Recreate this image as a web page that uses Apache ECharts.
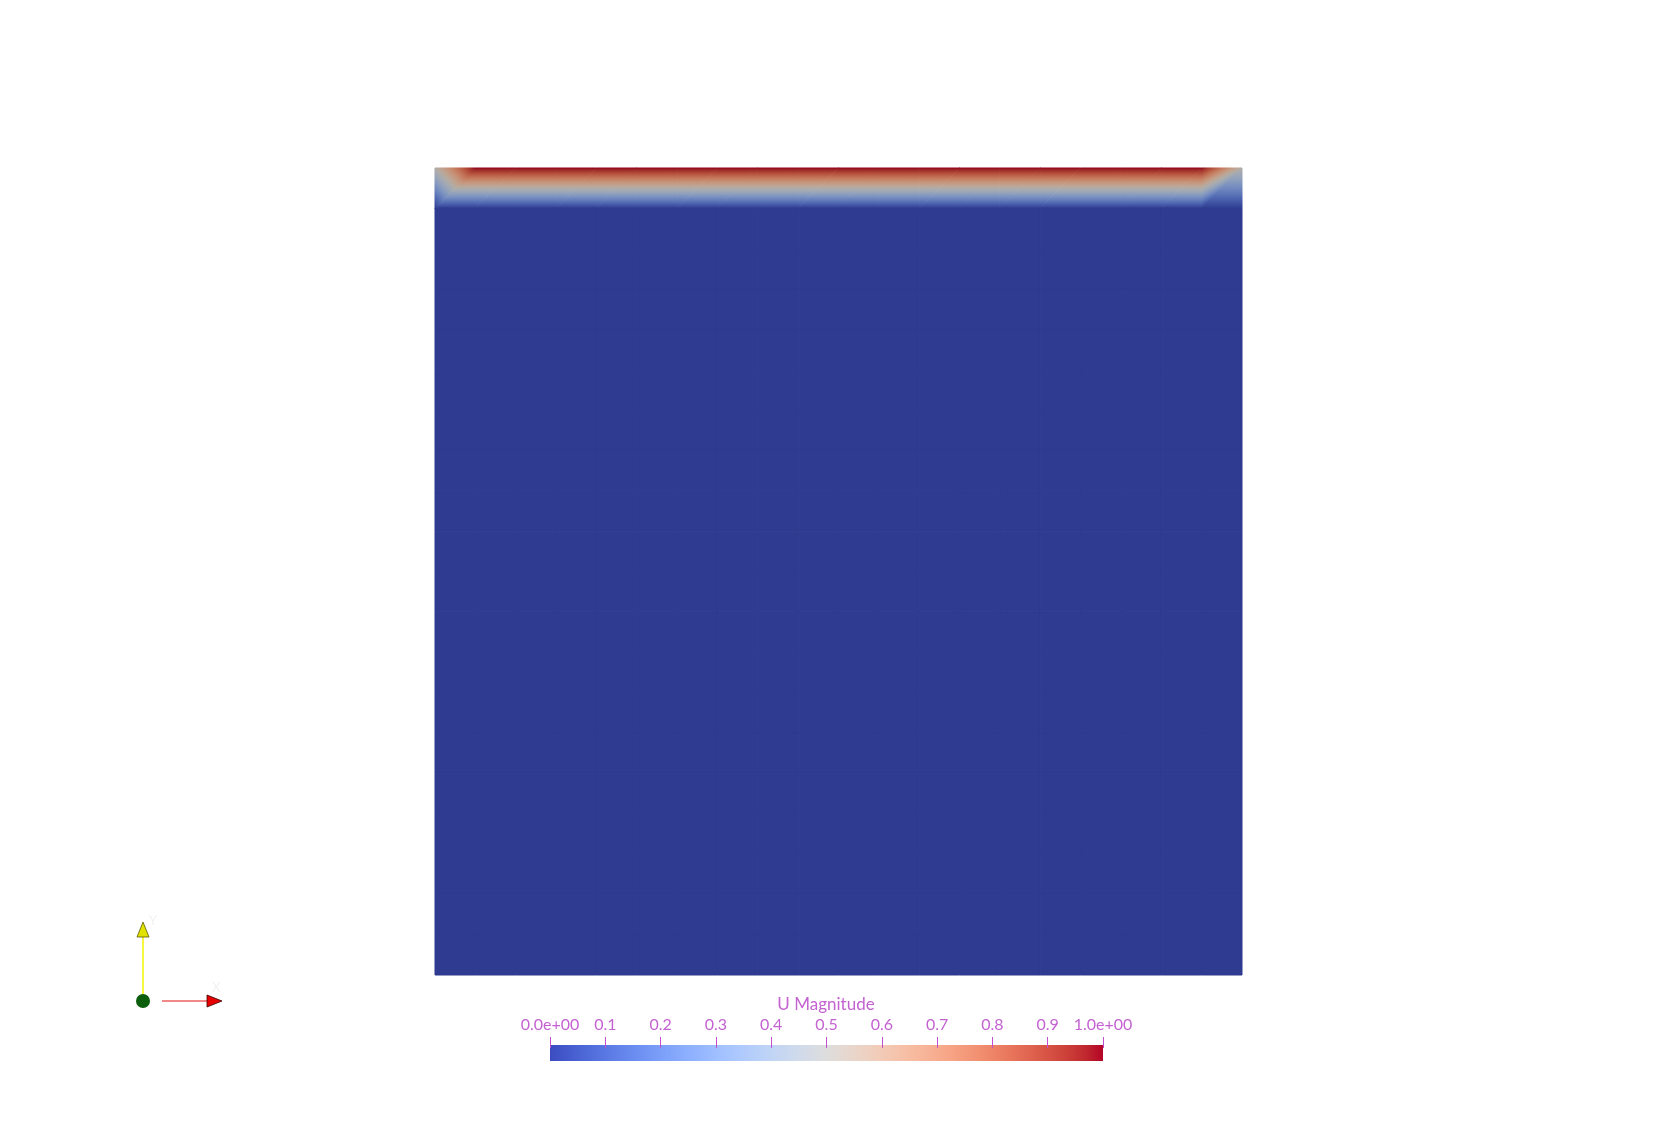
<!DOCTYPE html>
<html><head><meta charset="utf-8">
<script src="https://cdn.jsdelivr.net/npm/echarts@6/dist/echarts.min.js"></script>
<style>html,body{margin:0;padding:0;background:#fff}#c{width:1678px;height:1144px}</style>
</head><body><div id="c"></div>
<script>
// ---- data ----
const meshCells = 20;                       // 20 x 20 cell mesh, 21 x 21 nodes
// node values of U magnitude, top (lid) row first
const lidRow = [0.5,1,1,1,1,1,1,1,1,1,1,1,1,1,1,1,1,1,1,1,0.5];
const interiorRow = [0,0,0,0,0,0,0,0,0,0,0,0,0,0,0,0,0,0,0,0,0];
const colorbarRange = [0, 1];
const tickValues = [0,0.1,0.2,0.3,0.4,0.5,0.6,0.7,0.8,0.9,1];
const tickLabels = ['0.0e+00','0.1','0.2','0.3','0.4','0.5','0.6','0.7','0.8','0.9','1.0e+00'];
const colorbarTitle = 'U Magnitude';
// ParaView "Cool to Warm" colour map, 33 samples
const coolWarm = [
 [59,76,192],[68,90,204],[77,104,215],[87,117,225],[98,130,234],[108,142,241],[119,154,247],[130,165,251],
 [141,176,254],[152,185,255],[163,194,255],[174,201,253],[184,208,249],[194,213,244],[204,217,238],[213,219,230],
 [221,221,221],[229,216,209],[236,211,197],[241,204,185],[245,196,173],[247,187,160],[247,177,148],[247,166,135],
 [244,154,123],[241,141,111],[236,127,99],[229,112,88],[222,96,77],[213,80,66],[203,62,56],[192,40,47],[180,4,38]
];

const nodes = [lidRow];
for (let r = 1; r <= meshCells; r++) nodes.push(interiorRow);

const TXT = '#c462d2';
const TICK = '#c24fcc';
const FONT = 'Lato, "DejaVu Sans", sans-serif';

function cmap(v) {
  const lo = colorbarRange[0], hi = colorbarRange[1];
  let t = (v - lo) / (hi - lo);
  t = Math.max(0, Math.min(1, t));
  const p = t * (coolWarm.length - 1);
  const i = Math.min(coolWarm.length - 2, Math.floor(p));
  const f = p - i;
  const a = coolWarm[i], b = coolWarm[i + 1];
  return [a[0] + (b[0] - a[0]) * f, a[1] + (b[1] - a[1]) * f, a[2] + (b[2] - a[2]) * f];
}
function rgb(c) { return 'rgb(' + Math.round(c[0]) + ',' + Math.round(c[1]) + ',' + Math.round(c[2]) + ')'; }
// lit surface colour (scene lighting darkens the surface)
function lit(v) { const c = cmap(v); return rgb([c[0] * 0.8, c[1] * 0.78, c[2] * 0.75]); }

function triangle(P, V) {
  const d1x = P[1][0] - P[0][0], d1y = P[1][1] - P[0][1];
  const d2x = P[2][0] - P[0][0], d2y = P[2][1] - P[0][1];
  const dv1 = V[1] - V[0], dv2 = V[2] - V[0];
  const det = d1x * d2y - d1y * d2x;
  const a = (dv1 * d2y - dv2 * d1y) / det;
  const b = (d1x * dv2 - d2x * dv1) / det;
  const g2 = a * a + b * b;
  let fill;
  if (g2 < 1e-14) {
    fill = lit(V[0]);
  } else {
    const vmin = Math.min(V[0], V[1], V[2]), vmax = Math.max(V[0], V[1], V[2]);
    const s = [P[0][0] + (vmin - V[0]) / g2 * a, P[0][1] + (vmin - V[0]) / g2 * b];
    const e = [P[0][0] + (vmax - V[0]) / g2 * a, P[0][1] + (vmax - V[0]) / g2 * b];
    const stops = [];
    const N = 32;
    for (let k = 0; k <= N; k++) stops.push({ offset: k / N, color: lit(vmin + (vmax - vmin) * k / N) });
    fill = new echarts.graphic.LinearGradient(s[0], s[1], e[0], e[1], stops, true);
  }
  return { type: 'polygon', shape: { points: P }, style: { fill: fill, stroke: fill, lineWidth: 1, lineJoin: 'bevel' } };
}

const cells = [];
for (let j = 0; j < meshCells; j++) for (let i = 0; i < meshCells; i++) cells.push([i, j]);

function renderCell(params, api) {
  const i = api.value(0), j = api.value(1);
  const TL = api.coord([i, meshCells - j]), TR = api.coord([i + 1, meshCells - j]);
  const BL = api.coord([i, meshCells - j - 1]), BR = api.coord([i + 1, meshCells - j - 1]);
  const vTL = nodes[j][i], vTR = nodes[j][i + 1], vBL = nodes[j + 1][i], vBR = nodes[j + 1][i + 1];
  if (vTL === vTR && vTL === vBL && vTL === vBR) {
    const col = lit(vTL);
    return { type: 'rect', shape: { x: TL[0], y: TL[1], width: TR[0] - TL[0], height: BL[1] - TL[1] },
             style: { fill: col, stroke: col, lineWidth: 1 } };
  }
  return { type: 'group', children: [
    triangle([TL, TR, BL], [vTL, vTR, vBL]),
    triangle([TR, BR, BL], [vTR, vBR, vBL])
  ] };
}

function renderBar(params, api) {
  const p0 = api.coord([api.value(0), 1]);
  const p1 = api.coord([api.value(1), 0]);
  const stops = coolWarm.map((c, k) => ({ offset: k / (coolWarm.length - 1), color: rgb(c) }));
  return { type: 'rect', shape: { x: p0[0], y: p0[1], width: p1[0] - p0[0], height: p1[1] - p0[1] },
           style: { fill: new echarts.graphic.LinearGradient(0, 0, 1, 0, stops) } };
}

const chart = echarts.init(document.getElementById('c'), null, { renderer: 'canvas' });
chart.setOption({
  backgroundColor: '#ffffff',
  animation: false,
  grid: [
    { left: 435, top: 168, width: 807, height: 807 },
    { left: 550, top: 1045, width: 553, height: 16 }
  ],
  xAxis: [
    { gridIndex: 0, type: 'value', min: 0, max: meshCells, show: false },
    { gridIndex: 1, type: 'value', min: tickValues[0], max: tickValues[tickValues.length - 1], interval: 0.1,
      position: 'top', offset: -3, z: 10,
      axisLine: { show: false, onZero: false },
      axisTick: { show: true, inside: false, length: 11, lineStyle: { color: TICK, width: 1 } },
      splitLine: { show: false },
      axisLabel: { margin: 15, fontSize: 16, color: TXT, fontFamily: FONT,
        formatter: v => tickLabels[Math.round(v * 10)] } }
  ],
  yAxis: [
    { gridIndex: 0, type: 'value', min: 0, max: meshCells, show: false },
    { gridIndex: 1, type: 'value', min: 0, max: 1, show: false }
  ],
  series: [
    { type: 'custom', xAxisIndex: 0, yAxisIndex: 0, data: cells, renderItem: renderCell, silent: true },
    { type: 'custom', xAxisIndex: 1, yAxisIndex: 1, data: [colorbarRange], renderItem: renderBar, silent: true }
  ],
  graphic: [
    { type: 'text', x: 826, y: 996, style: { text: colorbarTitle, fill: TXT, font: '17px ' + FONT, align: 'center', verticalAlign: 'top' } },
    // orientation axes triad
    { type: 'line', shape: { x1: 143, y1: 994, x2: 143, y2: 936 }, style: { stroke: '#f4f400', lineWidth: 1.5 } },
    { type: 'polygon', shape: { points: [[143, 922], [137, 937], [149, 937]] }, style: { fill: '#e2e200', stroke: '#5c5c00', lineWidth: 0.8 } },
    { type: 'line', shape: { x1: 162, y1: 1001, x2: 208, y2: 1001 }, style: { stroke: '#e41414', lineWidth: 1.2 } },
    { type: 'polygon', shape: { points: [[222, 1001], [207, 995], [207, 1007]] }, style: { fill: '#e60000', stroke: '#3c0000', lineWidth: 0.8 } },
    { type: 'circle', shape: { cx: 143, cy: 1001, r: 7 }, style: { fill: '#0b5e0b' } },
    { type: 'text', x: 149, y: 914, style: { text: 'Y', fill: '#f2f2f2', font: '13px ' + FONT } },
    { type: 'text', x: 212, y: 981, style: { text: 'X', fill: '#f2f2f2', font: '13px ' + FONT } }
  ]
});
</script>
</body></html>
